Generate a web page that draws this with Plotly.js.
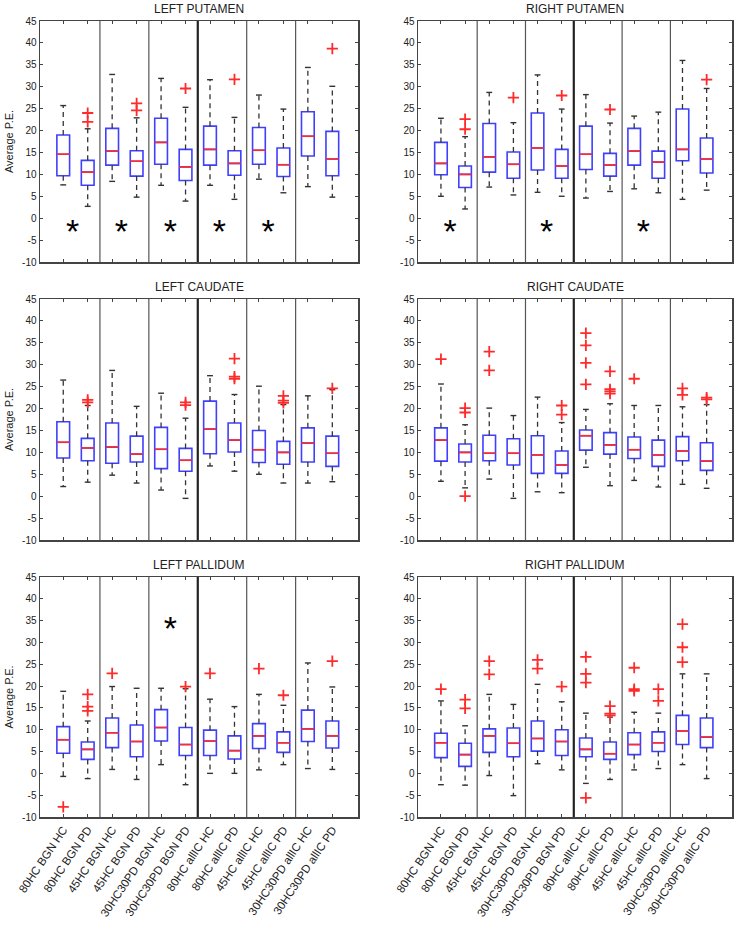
<!DOCTYPE html>
<html>
<head>
<meta charset="utf-8">
<script src="https://cdn.plot.ly/plotly-3.0.1.min.js"></script>
<style>html,body{margin:0;padding:0;background:#fff;}#chart{width:739px;height:928px;}</style>
</head>
<body>
<div id="chart"></div>
<script>
// ---------- DATA ----------
const categories = ["80HC BGN HC","80HC BGN PD","45HC BGN HC","45HC BGN PD","30HC30PD BGN HC","30HC30PD BGN PD",
                    "80HC allIC HC","80HC allIC PD","45HC allIC HC","45HC allIC PD","30HC30PD allIC HC","30HC30PD allIC PD"];
const panelTitles = ["LEFT PUTAMEN","RIGHT PUTAMEN","LEFT CAUDATE","RIGHT CAUDATE","LEFT PALLIDUM","RIGHT PALLIDUM"];
const yTickVals = [-10,-5,0,5,10,15,20,25,30,35,40,45];

// LEFT PUTAMEN
const LP_upper = [25.7,20.4,32.8,22.9,31.9,25.3,31.6,23.0,28.1,24.9,34.4,30.1];
const LP_q3    = [19.0,13.2,20.5,15.4,22.8,15.7,21.0,15.4,20.7,16.0,24.3,19.8];
const LP_med   = [14.6,10.5,15.3,13.0,17.3,11.7,15.7,12.5,15.5,12.2,18.7,13.5];
const LP_q1    = [9.7,7.5,12.1,9.6,12.3,8.6,12.1,9.8,12.3,9.5,14.2,9.7];
const LP_lower = [7.6,2.7,8.4,4.8,7.5,3.9,7.5,4.3,8.9,5.8,7.2,4.8];
const LP_outIdx = [2,2,4,4,6,8,12];
const LP_outVal = [24.0,22.0,26.2,24.6,29.6,31.7,38.7];
const LP_starPairs = [1,2,3,4,5];

// RIGHT PUTAMEN
const RP_upper = [22.8,18.6,28.7,21.8,32.7,24.9,28.2,21.7,23.3,24.2,36.0,29.6];
const RP_q3    = [17.3,11.9,21.6,15.1,24.0,15.7,21.0,14.8,20.5,15.3,24.9,18.3];
const RP_med   = [12.5,10.0,14.0,12.3,16.0,11.9,14.6,12.1,15.3,12.8,15.7,13.5];
const RP_q1    = [9.9,7.0,10.5,9.1,11.0,9.1,11.1,9.6,12.1,9.1,13.1,10.3];
const RP_lower = [5.0,2.1,7.1,5.3,5.9,5.0,4.6,6.1,6.7,5.8,4.3,6.4];
const RP_outIdx = [2,2,4,6,8,12];
const RP_outVal = [22.6,20.3,27.5,28.0,24.8,31.6];
const RP_starPairs = [1,3,5];

// LEFT CAUDATE
const LC_upper = [26.5,20.7,28.7,20.5,23.5,17.8,27.5,23.2,25.1,20.9,22.9,24.3];
const LC_q3    = [17.0,13.2,16.7,13.7,15.7,10.9,21.7,16.7,15.0,12.5,15.6,13.7];
const LC_med   = [12.3,11.0,11.2,9.6,10.7,8.2,15.3,12.8,10.6,10.0,12.1,9.8];
const LC_q1    = [8.7,8.1,7.5,7.8,6.3,5.7,9.7,10.1,7.7,7.3,7.8,6.8];
const LC_lower = [2.2,3.2,4.8,3.0,1.4,-0.5,6.9,5.7,5.0,3.0,3.0,3.3];
const LC_outIdx = [2,2,6,6,8,8,8,10,10,10,12];
const LC_outVal = [22.0,21.4,21.4,20.8,31.4,27.3,26.8,22.9,21.8,21.3,24.6];
const LC_starPairs = [];

// RIGHT CAUDATE
const RC_upper = [25.6,16.3,20.1,18.4,22.6,16.8,19.8,21.1,20.7,20.7,20.4,20.9];
const RC_q3    = [15.6,11.9,13.9,13.1,13.8,10.3,15.1,14.5,13.5,12.8,13.6,12.2];
const RC_med   = [12.8,10.0,9.8,9.8,9.4,7.1,13.8,11.7,10.6,9.4,10.3,8.0];
const RC_q1    = [8.0,7.8,8.1,7.1,5.2,5.2,10.5,9.6,8.6,6.8,8.1,5.9];
const RC_lower = [3.4,1.9,3.9,-0.5,1.0,0.8,6.6,2.4,3.6,2.1,2.7,1.8];
const RC_outIdx = [1,2,2,2,3,3,6,6,7,7,7,7,8,8,8,8,9,11,11,12,12];
const RC_outVal = [31.3,20.1,19.1,0.0,33.0,28.7,20.7,18.6,37.2,34.4,30.4,25.5,28.5,24.4,23.9,23.4,26.8,24.6,23.1,22.5,22.1];
const RC_starPairs = [];

// LEFT PALLIDUM
const LPa_upper = [18.8,12.0,19.9,19.5,19.5,19.4,17.0,15.3,18.1,15.6,25.3,19.8];
const LPa_q3    = [10.7,7.2,12.7,11.1,14.6,10.5,9.9,8.6,11.4,9.5,14.5,12.0];
const LPa_med   = [7.7,5.5,9.3,7.3,10.5,6.6,7.4,5.2,8.6,7.0,10.2,8.6];
const LPa_q1    = [4.6,3.2,5.9,3.8,7.4,4.1,4.1,3.3,5.7,4.8,7.3,5.8];
const LPa_lower = [-0.7,-1.2,0.9,-1.4,2.0,-2.6,0.0,0.0,0.8,2.0,1.1,0.9];
const LPa_outIdx = [1,2,2,2,3,6,7,9,10,12];
const LPa_outVal = [-7.7,18.1,15.3,14.3,22.9,19.9,22.9,24.0,17.9,25.7];
const LPa_starPairs = [3];

// RIGHT PALLIDUM
const RPa_upper = [16.6,10.9,18.1,15.8,20.4,16.4,13.8,12.9,14.0,13.8,22.8,22.8];
const RPa_q3    = [9.2,6.9,10.2,10.4,12.0,10.0,8.1,7.2,9.3,9.5,13.3,12.7];
const RPa_med   = [7.0,4.3,8.6,6.9,8.0,7.3,5.5,4.5,6.6,7.0,9.7,8.3];
const RPa_q1    = [3.6,1.6,4.8,3.8,5.1,4.1,3.8,3.2,4.3,5.0,6.6,5.9];
const RPa_lower = [-2.6,-2.7,-0.5,-5.1,2.2,0.8,-2.3,-1.4,0.8,1.1,2.0,-1.2];
const RPa_outIdx = [1,2,2,3,3,5,5,6,7,7,7,7,8,8,8,9,9,9,10,10,11,11,11];
const RPa_outVal = [19.3,16.9,14.9,25.7,22.7,26.0,24.0,19.9,26.7,22.8,20.8,-5.6,15.4,13.7,13.3,24.2,19.3,18.9,19.3,16.6,34.2,28.9,25.5];
const RPa_starPairs = [];

const panels = [
  {upper:LP_upper,q3:LP_q3,med:LP_med,q1:LP_q1,lower:LP_lower,outIdx:LP_outIdx,outVal:LP_outVal,stars:LP_starPairs,starY:-3.8},
  {upper:RP_upper,q3:RP_q3,med:RP_med,q1:RP_q1,lower:RP_lower,outIdx:RP_outIdx,outVal:RP_outVal,stars:RP_starPairs,starY:-3.8},
  {upper:LC_upper,q3:LC_q3,med:LC_med,q1:LC_q1,lower:LC_lower,outIdx:LC_outIdx,outVal:LC_outVal,stars:LC_starPairs,starY:-3.8},
  {upper:RC_upper,q3:RC_q3,med:RC_med,q1:RC_q1,lower:RC_lower,outIdx:RC_outIdx,outVal:RC_outVal,stars:RC_starPairs,starY:-3.8},
  {upper:LPa_upper,q3:LPa_q3,med:LPa_med,q1:LPa_q1,lower:LPa_lower,outIdx:LPa_outIdx,outVal:LPa_outVal,stars:LPa_starPairs,starY:32.6},
  {upper:RPa_upper,q3:RPa_q3,med:RPa_med,q1:RPa_q1,lower:RPa_lower,outIdx:RPa_outIdx,outVal:RPa_outVal,stars:RPa_starPairs,starY:-3.8}
];

// ---------- LAYOUT GEOMETRY ----------
const W = 739, H = 928;
const colX = [[40,358],[418,732]];
const rowY = [[21,262],[299,540],[577,817]];
const positions = categories.map((c,i)=>i+1);
const BOX_W = 0.52, CAP_HW = 0.12;
const BLUE = '#3f3fff', RED = '#ff2a2a', FONT = 'Liberation Sans, Arial, sans-serif';

const traces = [];
const layout = {
  width: W, height: H, autosize: false,
  margin: {l:0, r:0, t:0, b:0},
  paper_bgcolor: '#fff', plot_bgcolor: '#fff',
  showlegend: false,
  font: {family: FONT, color: '#222'},
  shapes: [], annotations: []
};

panels.forEach((p, k) => {
  const col = k % 2, row = Math.floor(k / 2);
  const n = k + 1;
  const xa = n === 1 ? 'x' : 'x' + n, ya = n === 1 ? 'y' : 'y' + n;
  const xKey = n === 1 ? 'xaxis' : 'xaxis' + n, yKey = n === 1 ? 'yaxis' : 'yaxis' + n;
  const xd = [colX[col][0] / W, colX[col][1] / W];
  const yd = [1 - rowY[row][1] / H, 1 - rowY[row][0] / H];

  layout[xKey] = {
    domain: xd, anchor: ya, range: [0.05, 13.05],
    tickvals: positions, ticktext: categories,
    showticklabels: row === 2, tickangle: -56,
    tickfont: {size: 11.5, family: FONT, color: '#222'},
    ticks: 'inside', ticklen: 3, tickcolor: '#444', mirror: 'ticks',
    showline: true, linecolor: '#444', linewidth: 1.5,
    showgrid: false, zeroline: false, fixedrange: true
  };
  layout[yKey] = {
    domain: yd, anchor: xa, range: [-10, 45],
    tickvals: yTickVals, ticktext: yTickVals.map(String),
    tickfont: {size: 10, family: FONT, color: '#222'},
    ticks: 'inside', ticklen: 3, tickcolor: '#444', mirror: 'ticks',
    showline: true, linecolor: '#444', linewidth: 1.5,
    showgrid: false, zeroline: false, fixedrange: true,
    title: col === 0 ? {text: 'Average P.E.', font: {size: 11, family: FONT, color: '#222'}, standoff: 6} : {text: ''}
  };

  // separators between groups
  for (let s = 2; s < categories.length; s += 2) {
    const mid = s === categories.length / 2;
    layout.shapes.push({type: 'line', xref: xa, yref: ya + ' domain', x0: s + 0.5, x1: s + 0.5, y0: 0, y1: 1,
      line: {color: mid ? '#222' : '#555', width: mid ? 2.2 : 1.2}});
  }

  // title
  layout.annotations.push({text: panelTitles[k], xref: 'paper', yref: 'paper',
    x: (xd[0] + xd[1]) / 2, y: yd[1], yanchor: 'bottom', xanchor: 'center', yshift: 3, showarrow: false,
    font: {size: 12, family: FONT, color: '#222'}});

  // whiskers (dashed)
  const wx = [], wy = [], cx = [], cy = [], mx = [], my = [];
  positions.forEach((x, i) => {
    wx.push(x, x, null, x, x, null);
    wy.push(p.q3[i], p.upper[i], null, p.q1[i], p.lower[i], null);
    cx.push(x - CAP_HW, x + CAP_HW, null, x - CAP_HW, x + CAP_HW, null);
    cy.push(p.upper[i], p.upper[i], null, p.lower[i], p.lower[i], null);
    mx.push(x - BOX_W / 2, x + BOX_W / 2, null);
    my.push(p.med[i], p.med[i], null);
  });
  traces.push({type: 'scatter', mode: 'lines', x: wx, y: wy, xaxis: xa, yaxis: ya,
    line: {color: '#333', width: 1.3, dash: '5px,4px'}, hoverinfo: 'skip'});
  traces.push({type: 'scatter', mode: 'lines', x: cx, y: cy, xaxis: xa, yaxis: ya,
    line: {color: '#333', width: 1.4}, hoverinfo: 'skip'});
  // boxes
  traces.push({type: 'box', x: positions, q1: p.q1, median: p.med, q3: p.q3,
    lowerfence: p.q1, upperfence: p.q3, width: BOX_W, whiskerwidth: 0, boxpoints: false,
    xaxis: xa, yaxis: ya, line: {color: BLUE, width: 1.6}, fillcolor: 'rgba(0,0,0,0)', hoverinfo: 'skip'});
  // medians
  traces.push({type: 'scatter', mode: 'lines', x: mx, y: my, xaxis: xa, yaxis: ya,
    line: {color: RED, width: 1.6}, hoverinfo: 'skip'});
  // outliers
  traces.push({type: 'scatter', mode: 'markers', x: p.outIdx, y: p.outVal, xaxis: xa, yaxis: ya,
    marker: {symbol: 'cross-thin-open', size: 8, color: RED, line: {color: RED, width: 1.8}}, hoverinfo: 'skip'});
  // significance stars
  if (p.stars.length) {
    traces.push({type: 'scatter', mode: 'text', x: p.stars.map(s => 2 * s - 0.62), y: p.stars.map(() => p.starY),
      text: p.stars.map(() => '*'), textposition: 'middle center', xaxis: xa, yaxis: ya,
      textfont: {size: 34, family: FONT, color: '#000'}, hoverinfo: 'skip', cliponaxis: false});
  }
});

Plotly.newPlot('chart', traces, layout, {displayModeBar: false, staticPlot: true});
</script>
</body>
</html>
